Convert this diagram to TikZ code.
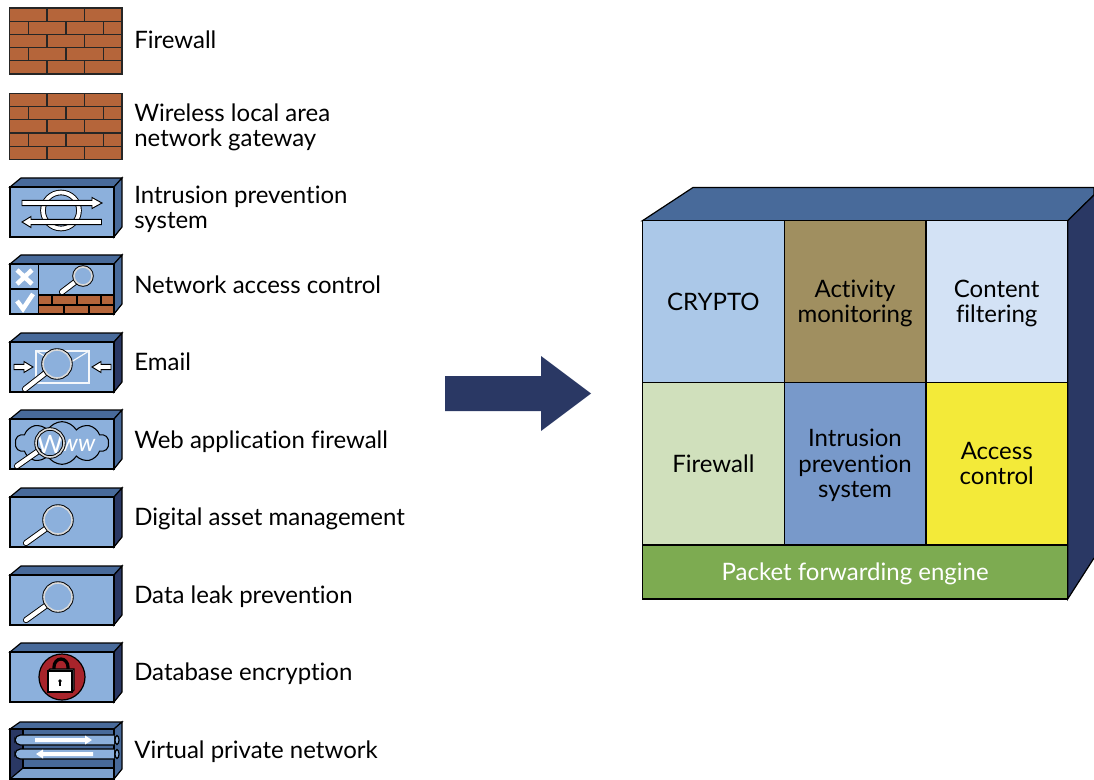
\documentclass[tikz,border=0pt]{standalone}
\usepackage{fontspec}
\setmainfont[Ligatures=NoCommon]{Lato}
\usetikzlibrary{shapes.symbols}
\definecolor{frontblue}{HTML}{8CB0DC}
\definecolor{topblue}{HTML}{486A9A}
\definecolor{navy}{HTML}{2A3864}
\definecolor{brick}{HTML}{B5653A}
\definecolor{lockred}{HTML}{A8242B}
\definecolor{crypto}{HTML}{ABC8E8}
\definecolor{activity}{HTML}{A08F60}
\definecolor{content}{HTML}{D3E2F5}
\definecolor{mur}{HTML}{D0E0BC}
\definecolor{prevention}{HTML}{7899CA}
\definecolor{acces}{HTML}{F3EA39}
\definecolor{paquet}{HTML}{7DAB51}
% pushes a cell text down a little
\newcommand{\bas}{\rule{0pt}{16pt}}
% wall of five courses, top edge at y
\newcommand{\brickwall}[1]{%
	\begin{scope}[shift={(9.5,#1)}]
		\fill[brick] (0,0) rectangle (112.5,66);
		\foreach \ligne in {13.2,26.4,39.6,52.8} \draw[mortier] (0,\ligne) -- (112.5,\ligne);
		\foreach \colonne in {37.5,75} {
			\draw[mortier] (\colonne,0) -- (\colonne,13.2);
			\draw[mortier] (\colonne,26.4) -- (\colonne,39.6);
			\draw[mortier] (\colonne,52.8) -- (\colonne,66);
		}
		\foreach \colonne in {19,56.5,94} {
			\draw[mortier] (\colonne,13.2) -- (\colonne,26.4);
			\draw[mortier] (\colonne,39.6) -- (\colonne,52.8);
		}
		\draw[mortier] (0,0) rectangle (112.5,66);
	\end{scope}}
% small box, top edge of the front at y, colour of the side
\newcommand{\iconbox}[2]{%
	\begin{scope}[shift={(10,#1)}]
		\draw[trait,fill=topblue] (0,0) -- (11,-9) -- (112,-9) -- (104,0) -- cycle;
		\draw[trait,fill=#2] (104,0) -- (112,-9) -- (112,40) -- (104,50) -- cycle;
		\draw[trait,fill=frontblue] (0,0) rectangle (104,50);
	\end{scope}}
% magnifier: centre x, centre y, radius, end of the handle
\newcommand{\loupe}[5]{%
	\draw[line width=4.6pt,line cap=round,black] (#4,#5) -- (#1,#2);
	\draw[line width=3.2pt,line cap=round,white] (#4,#5) -- (#1,#2);
	\draw[black,line width=2.6pt] (#1,#2) circle (#3);
	\draw[white!85!black,line width=1.2pt,fill=frontblue] (#1,#2) circle (#3);}
% flat arrow: tail x, neck x, tip x, y
\newcommand{\flatarrow}[4]{%
	\draw[fleche] (#1,#4-2.6) -- (#2,#4-2.6) -- (#2,#4-5.5) -- (#3,#4) -- (#2,#4+5.5) -- (#2,#4+2.6) -- (#1,#4+2.6) -- cycle;}
\begin{document}
\begin{tikzpicture}[x=0.75pt,y=-0.75pt]
	% définition des styles
	\tikzset{
		trait/.style={draw=black,line width=0.9pt},
		mortier/.style={draw=black!85,line width=0.9pt},
		fleche/.style={draw=black,fill=white,line width=0.7pt},
		legende/.style={anchor=west,align=left,inner sep=0pt,font=\fontsize{18}{19}\selectfont},
		cell/.style={draw=black,line width=0.8pt,minimum width=106pt,minimum height=121.7pt,inner sep=0pt,align=center,font=\fontsize{18}{19}\selectfont}
	}
	\useasboundingbox (0,0) rectangle (1094,780);
	% les murs
	\brickwall{8}
	\brickwall{93.5}
	% IPS
	\iconbox{187}{topblue}
	\draw[black,line width=4.2pt] (61,210.5) circle (18);
	\draw[white,line width=2.8pt] (61,210.5) circle (18);
	\flatarrow{22}{92}{102}{203}
	\flatarrow{101.5}{31}{22}{222}
	% contrôle d'accès
	\iconbox{264}{topblue}
	\draw[trait] (38.7,264) -- (38.7,314);
	\draw[trait] (10,289) -- (38.7,289);
	\fill[brick] (38.7,295) rectangle (114,314);
	\draw[trait] (38.7,295) rectangle (114,314);
	\draw[trait] (38.7,305) -- (114,305);
	\foreach \colonne in {52,77,101} \draw[trait] (\colonne,295) -- (\colonne,305);
	\foreach \colonne in {64,89} \draw[trait] (\colonne,305) -- (\colonne,314);
	\draw[white,line width=3.4pt] (17,270) -- (32,284) (32,270) -- (17,284);
	\draw[white,line width=3.4pt] (17,301) -- (23,309) -- (33,294);
	\loupe{83}{276}{9}{62}{292}
	% courriel
	\iconbox{342}{navy}
	\draw[white!90!frontblue,line width=0.9pt] (36,351) rectangle (89,383);
	\draw[white!90!frontblue,line width=0.9pt] (36,351) -- (63,367) -- (89,351);
	\flatarrow{14}{24}{33}{367}
	\flatarrow{111}{101}{92}{367}
	\loupe{57}{364}{14}{25}{389}
	% application web
	\iconbox{419}{topblue}
	\node[cloud,draw=black,line width=0.8pt,cloud puffs=10,cloud puff arc=120,aspect=2.4,inner sep=0pt,minimum width=70pt,minimum height=32pt] (nuage) at (62,443) {};
	\node[white,inner sep=0pt,font=\fontsize{19}{19}\selectfont] (w) at (50,444) {W};
	\node[white,inner sep=0pt,font=\fontsize{18}{18}\selectfont\itshape] (ww) at (78,445) {ww};
	\draw[black,line width=4.6pt,line cap=round] (17,466) -- (38.5,451);
	\draw[white,line width=3.2pt,line cap=round] (17,466) -- (38.5,451);
	\draw[black,line width=2.6pt] (50,443) circle (14);
	\draw[white!85!black,line width=1.2pt] (50,443) circle (14);
	% gestion des actifs
	\iconbox{497}{navy}
	\loupe{58}{520}{14}{26}{543}
	% fuite de données
	\iconbox{575}{navy}
	\loupe{58}{597}{14}{26}{620}
	% chiffrement
	\iconbox{652}{navy}
	\draw[trait,fill=lockred] (62,677) circle (23);
	\draw[black,line width=2.4pt] (54,672) -- (54,667) arc (180:360:7 and 8) -- (68,672);
	\draw[trait,fill=black!45] (48,671) -- (50,669) -- (74,669) -- (74,690) -- (72,692) -- cycle;
	\draw[trait,fill=white] (48,671) rectangle (72,692);
	\fill (60,681) circle (1.8);
	\fill (59.2,681) rectangle (60.8,686);
	% tunnel
	\fill[frontblue!80!topblue] (10,779) -- (23,768) -- (114,768) -- (114,779) -- cycle;
	\fill[topblue] (23,729) rectangle (114,768);
	\fill[navy] (10,729) -- (23,729) -- (23,768) -- (10,779) -- cycle;
	\draw[trait,fill=topblue] (10,729) -- (20,722) -- (122,722) -- (114,729) -- cycle;
	\draw[trait,fill=topblue] (114,729) -- (122,722) -- (122,769) -- (114,779) -- cycle;
	\draw[trait] (23,729) -- (23,768) -- (114,768);
	\draw[trait] (23,768) -- (10,779);
	\draw[trait] (10,729) rectangle (114,779);
	\draw[trait,fill=frontblue,rounded corners=4pt] (114,735) -- (15,735) -- (15,745) -- (114,745);
	\draw[trait,fill=frontblue,rounded corners=4pt] (114,749) -- (15,749) -- (15,759) -- (114,759);
	\draw[trait,fill=frontblue] (117,740) ellipse (2 and 4.5);
	\draw[trait,fill=frontblue] (117,754) ellipse (2 and 4.5);
	\fill[white] (35,738) -- (85,738) -- (85,735.5) -- (92,740) -- (85,744.5) -- (85,742) -- (35,742) -- cycle;
	\fill[white] (93,752) -- (43,752) -- (43,749.5) -- (36,754) -- (43,758.5) -- (43,756) -- (93,756) -- cycle;
	% la légende
	\node[legende] (firewall) at (134,40) {Firewall};
	\node[legende] (wlan) at (134,127.5) {Wireless local area\\network gateway};
	\node[legende] (ips) at (134,209.5) {Intrusion prevention\\system};
	\node[legende] (nac) at (134,285) {Network access control};
	\node[legende] (email) at (134,362) {Email};
	\node[legende] (waf) at (134,442) {Web application firewall};
	\node[legende] (dam) at (134,519) {Digital asset management};
	\node[legende] (dlp) at (134,597) {Data leak prevention};
	\node[legende] (dbe) at (134,674) {Database encryption};
	\node[legende] (vpn) at (134,752) {Virtual private network};
	% la flèche
	\fill[navy] (445,376) -- (541,376) -- (541,356) -- (591,393.5) -- (541,431) -- (541,411) -- (445,411) -- cycle;
	% le bloc
	\draw[trait,fill=topblue] (642.5,220.7) -- (693,187.5) -- (1094,187.5) -- (1094,195) -- (1067.7,220.7) -- cycle;
	\fill[navy] (1067.7,220.7) -- (1094,195) -- (1094,558) -- (1067.7,599) -- cycle;
	\draw[trait] (1094,195) -- (1067.7,220.7) -- (1067.7,599) -- (1094,558);
	\node[cell,fill=crypto] (crypto) at (713.4,301.5) {CRYPTO};
	\node[cell,fill=activity] (activity) at (855,301.5) {\bas Activity\\monitoring};
	\node[cell,fill=content] (content) at (996.7,301.5) {\bas Content\\filtering};
	\node[cell,fill=mur] (mur) at (713.4,463.6) {Firewall};
	\node[cell,fill=prevention] (prevention) at (855,463.6) {\bas Intrusion\\prevention\\system};
	\node[cell,fill=acces] (acces) at (996.7,463.6) {Access\\control};
	\node[cell,fill=paquet,text=white,minimum width=319pt,minimum height=40.5pt] (paquet) at (855.1,572) {\bas Packet forwarding engine};
\end{tikzpicture}
\end{document}
